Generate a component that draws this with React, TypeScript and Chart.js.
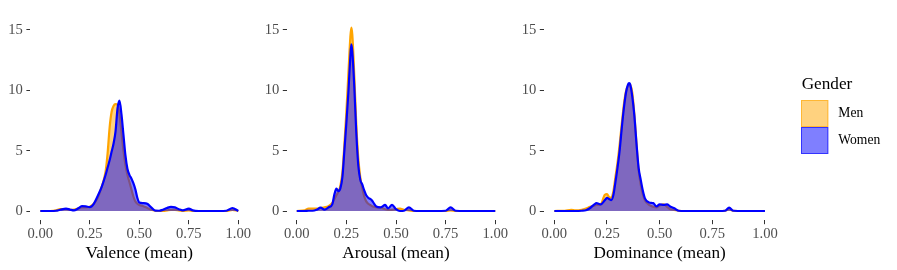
import React, { useEffect, useRef } from 'react';
import { Chart, registerables } from 'chart.js';
Chart.register(...registerables);

const FONT = "'Liberation Serif', 'Times New Roman', serif";

// ---- data ----
const genders = ['Men', 'Women'];
const xTickValues = [0, 0.25, 0.5, 0.75, 1];
const yTickValues = [0, 5, 10, 15];
const axisTitles = ['Valence (mean)', 'Arousal (mean)', 'Dominance (mean)'];

const valenceX = [0, 0.05, 0.08, 0.1, 0.13, 0.15, 0.17, 0.19, 0.21, 0.23, 0.25, 0.27, 0.29, 0.31, 0.33, 0.34, 0.35, 0.36, 0.37, 0.38, 0.39, 0.4, 0.41, 0.42, 0.43, 0.44, 0.45, 0.46, 0.47, 0.48, 0.49, 0.5, 0.52, 0.54, 0.56, 0.58, 0.6, 0.62, 0.64, 0.66, 0.68, 0.7, 0.72, 0.75, 0.77, 0.8, 0.85, 0.9, 0.94, 0.97, 1.0];
const valenceMen = [0, 0, 0.05, 0.15, 0.15, 0.1, 0.12, 0.2, 0.3, 0.3, 0.35, 0.6, 1.1, 2.0, 3.3, 4.8, 6.9, 8.2, 8.7, 8.85, 8.8, 8.0, 6.5, 5.0, 3.8, 3.0, 2.4, 1.8, 1.2, 0.8, 0.6, 0.5, 0.4, 0.25, 0.1, 0.02, 0, 0, 0.05, 0.1, 0.1, 0.05, 0, 0.05, 0, 0, 0, 0, 0, 0.1, 0];
const valenceWomen = [0, 0, 0.02, 0.1, 0.2, 0.12, 0.05, 0.2, 0.4, 0.38, 0.32, 0.6, 1.25, 2.0, 3.0, 3.6, 4.2, 4.9, 5.6, 6.6, 8.5, 9.15, 8.0, 6.3, 4.6, 3.5, 3.0, 2.7, 2.3, 1.8, 1.1, 0.7, 0.65, 0.6, 0.3, 0.03, 0.02, 0.1, 0.25, 0.35, 0.3, 0.15, 0.05, 0.2, 0.05, 0, 0, 0, 0.02, 0.25, 0];

const arousalX = [0, 0.04, 0.06, 0.08, 0.1, 0.12, 0.14, 0.16, 0.18, 0.19, 0.2, 0.21, 0.22, 0.23, 0.24, 0.25, 0.26, 0.27, 0.275, 0.28, 0.29, 0.3, 0.31, 0.32, 0.33, 0.34, 0.35, 0.36, 0.37, 0.38, 0.39, 0.4, 0.42, 0.43, 0.445, 0.46, 0.48, 0.5, 0.52, 0.54, 0.565, 0.59, 0.62, 0.7, 0.75, 0.775, 0.8, 0.85, 0.9, 1.0];
const arousalMen = [0, 0.05, 0.2, 0.2, 0.2, 0.25, 0.3, 0.4, 0.7, 1.0, 1.3, 1.6, 2.1, 3.2, 5.5, 8.2, 11.3, 14.4, 15.2, 14.6, 11.2, 7.2, 4.4, 2.8, 1.9, 1.2, 0.8, 0.6, 0.5, 0.4, 0.35, 0.3, 0.3, 0.25, 0.15, 0.1, 0.1, 0.15, 0.2, 0.1, 0.05, 0, 0, 0, 0, 0.05, 0, 0, 0, 0];
const arousalWomen = [0, 0, 0.02, 0.02, 0.1, 0.28, 0.12, 0.3, 0.6, 1.4, 1.85, 1.65, 1.9, 2.8, 5.0, 7.3, 9.8, 12.8, 13.8, 13.2, 10.3, 6.5, 3.8, 2.6, 2.2, 1.7, 1.3, 1.1, 1.0, 0.85, 0.6, 0.38, 0.3, 0.35, 0.5, 0.22, 0.5, 0.15, 0, 0.02, 0.3, 0.02, 0, 0, 0.02, 0.3, 0.02, 0, 0, 0];

const dominanceX = [0, 0.05, 0.08, 0.1, 0.13, 0.15, 0.17, 0.19, 0.2, 0.22, 0.24, 0.25, 0.26, 0.27, 0.28, 0.29, 0.3, 0.31, 0.32, 0.33, 0.34, 0.35, 0.355, 0.36, 0.37, 0.38, 0.39, 0.4, 0.41, 0.42, 0.43, 0.45, 0.47, 0.485, 0.5, 0.52, 0.535, 0.55, 0.57, 0.59, 0.62, 0.7, 0.78, 0.81, 0.83, 0.85, 0.9, 1.0];
const dominanceMen = [0, 0.02, 0.1, 0.05, 0.1, 0.2, 0.35, 0.45, 0.5, 0.55, 1.35, 1.4, 1.15, 1.1, 1.6, 2.8, 4.0, 5.5, 7.2, 8.8, 9.9, 10.4, 10.5, 10.45, 9.8, 8.0, 5.6, 3.4, 2.2, 1.4, 0.9, 0.5, 0.35, 0.3, 0.45, 0.55, 0.35, 0.15, 0.1, 0.02, 0, 0, 0, 0.02, 0.15, 0.02, 0, 0];
const dominanceWomen = [0, 0, 0, 0, 0.02, 0.06, 0.25, 0.55, 0.65, 0.55, 0.9, 1.08, 1.0, 0.9, 1.3, 2.4, 3.6, 5.0, 6.85, 8.5, 9.8, 10.5, 10.6, 10.5, 9.5, 7.9, 5.6, 3.6, 2.6, 1.7, 1.05, 0.7, 0.65, 0.38, 0.55, 0.5, 0.55, 0.38, 0.22, 0.02, 0, 0, 0, 0.02, 0.28, 0.02, 0, 0];

const panelX = [valenceX, arousalX, dominanceX];
const panelMen = [valenceMen, arousalMen, dominanceMen];
const panelWomen = [valenceWomen, arousalWomen, dominanceWomen];

// ---- layout / style ----
const layouts = [
  { left: 0, width: 256, plotLeft: 30.4, plotRight: 248.2, legend: false },
  { left: 256, width: 256, plotLeft: 286.8, plotRight: 505.2, legend: false },
  { left: 512, width: 385, plotLeft: 543.8, plotRight: 775.5, legend: true },
];
const colors: Record<string, { line: string; fill: string; key: string }> = {
  Men: { line: '#FFA500', fill: 'rgba(255,165,0,0.5)', key: 'rgba(255,165,0,0.6)' },
  Women: { line: '#0000FF', fill: 'rgba(0,0,255,0.5)', key: 'rgba(0,0,255,0.6)' },
};

const legendPlugin = {
  id: 'genderLegend',
  afterDraw(chart: any, _args: any, opts: any) {
    if (!opts || !opts.show) return;
    const ctx = chart.ctx;
    ctx.save();
    ctx.textAlign = 'left';
    ctx.textBaseline = 'middle';
    ctx.fillStyle = '#000';
    ctx.font = `17.2px ${FONT}`;
    ctx.fillText('Gender', opts.x + 0.7, opts.titleY);
    genders.forEach((g, i) => {
      const ds = chart.data.datasets.find((d: any) => d.label === g);
      const y = opts.boxTop + i * opts.boxH;
      ctx.fillStyle = ds.backgroundColor;
      ctx.fillRect(opts.x, y, opts.boxW, opts.boxH);
      ctx.strokeStyle = colors[g].key;
      ctx.lineWidth = 1;
      ctx.strokeRect(opts.x + 0.5, y + 0.5, opts.boxW - 1, opts.boxH - 1);
      ctx.fillStyle = '#000';
      ctx.font = `13.6px ${FONT}`;
      ctx.fillText(g, opts.labelX, y + opts.boxH / 2);
    });
    ctx.restore();
  },
};

function Panel({ idx }: { idx: number }) {
  const ref = useRef<HTMLCanvasElement>(null);
  const L = layouts[idx];
  useEffect(() => {
    const xs = panelX[idx];
    const series: Record<string, number[]> = { Men: panelMen[idx], Women: panelWomen[idx] };
    const mk = (g: string, order: number) => ({
      label: g,
      data: xs.map((v, i) => ({ x: v, y: series[g][i] })),
      borderColor: colors[g].line,
      backgroundColor: colors[g].fill,
      fill: 'origin',
      borderWidth: 2.2,
      pointRadius: 0,
      cubicInterpolationMode: 'monotone',
      order,
    });
    const tickFont = { family: FONT, size: 14.6 };
    const grid = { drawOnChartArea: false, drawTicks: true, tickLength: 4, color: '#333333', lineWidth: 1 };
    const chart = new Chart(ref.current as HTMLCanvasElement, {
      type: 'line',
      data: { datasets: [mk('Women', 0), mk('Men', 1)] as any },
      options: {
        responsive: false,
        animation: false,
        events: [],
        layout: { padding: { left: 0, top: 18.4, right: L.width - (L.plotRight - L.left), bottom: 0 } },
        plugins: {
          legend: { display: false },
          tooltip: { enabled: false },
          filler: { drawTime: 'beforeDatasetDraw' },
          genderLegend: { show: L.legend, x: 289, titleY: 84, boxTop: 100, boxW: 27.3, boxH: 27, labelX: 326.3 },
        } as any,
        scales: {
          x: {
            type: 'linear',
            min: -0.05,
            max: 1.05,
            afterBuildTicks: (s: any) => { s.ticks = xTickValues.map((v) => ({ value: v })); },
            afterFit: (s: any) => { s.height = 49.8; },
            ticks: { callback: (v: any) => Number(v).toFixed(2), font: tickFont, color: '#4D4D4D', padding: 1.5, maxRotation: 0, autoSkip: false },
            grid,
            border: { display: false },
            title: { display: true, text: axisTitles[idx], font: { family: FONT, size: 17.2 }, color: '#000', padding: { top: 0, bottom: 6.5 } },
          },
          y: {
            type: 'linear',
            min: -0.762,
            max: 15.96,
            afterBuildTicks: (s: any) => { s.ticks = yTickValues.map((v) => ({ value: v })); },
            afterFit: (s: any) => { s.width = L.plotLeft - L.left; },
            ticks: { callback: (v: any) => String(v), font: tickFont, color: '#4D4D4D', padding: 3.5 },
            grid,
            border: { display: false },
          },
        } as any,
      },
      plugins: [legendPlugin as any],
    });
    return () => chart.destroy();
  }, [idx]);
  return (
    <canvas
      ref={ref}
      width={L.width}
      height={270}
      style={{ position: 'absolute', left: L.left, top: 0, width: L.width, height: 270 }}
    />
  );
}

export default function App() {
  return (
    <div style={{ position: 'absolute', left: 0, top: 0, width: 897, height: 270, background: '#fff' }}>
      {layouts.map((_, i) => (
        <Panel key={i} idx={i} />
      ))}
    </div>
  );
}
